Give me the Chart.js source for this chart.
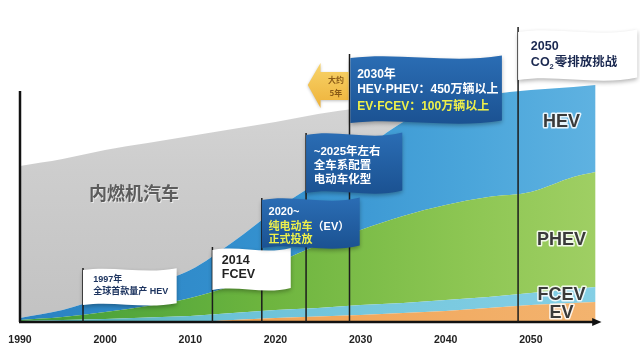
<!DOCTYPE html>
<html>
<head>
<meta charset="utf-8">
<script src="https://cdn.jsdelivr.net/npm/chart.js@4.4.0/dist/chart.umd.min.js"></script>
<style>
html,body{margin:0;padding:0;background:#fff;}
#wrap{width:640px;height:355px;}
</style>
</head>
<body>
<div id="wrap"><canvas id="c" width="640" height="355"></canvas></div>
<script>
// ---- data ----
const years      = [1990,1995,2000,2005,2010,2015,2020,2025,2030,2035,2040,2045,2050,2055,2057.6];
const evValues   = [0,0,0,0,0,2,4,5.5,7,9,11,14,17,19,20];
const fcevValues = [1,2,3,4.5,6,7,8,8.5,10,10,11,11,12,14,15];
const phevValues = [1,3,7,11.5,18,28,46,63,75,87,95,100,101,112,115];
const hevValues  = [2,7,15,21,28,43,54,63,78,94,101,102,102,90,87];
const iceValues  = [152,151,147,142,134,113,88,68,44,20,7,1,0,0,0];
const tickYears  = [1990,2000,2010,2020,2030,2040,2050];
const seriesNames = ['EV','FCEV','PHEV','HEV','内燃机汽车'];

// ---- annotations (flags on poles) ----
const YEL = '#eef04a';
const MIX = '"Liberation Sans", "Noto Sans CJK SC"';
const flagNotes = [
  {pole:1997.4, top:54, box:[1997.4,2008.4,52,17], dark:false, tx:1998.6, size:9, color:'#1e3560', font:MIX,
   lines:[[42,[['1997年']]],[30,[['全球首款量产 HEV']]]]},
  {pole:2012.6, top:75, box:[2012.6,2021.8,72,32], dark:false, tx:2013.7, size:12.5, color:'#222', font:'"Liberation Sans"',
   lines:[[61,[['2014']]],[47,[['FCEV']]]]},
  {pole:2018.4, top:124, box:[2018.4,2029.9,122,74], dark:true, tx:2019.2, size:11, color:'#fff', font:MIX,
   lines:[[110,[['2020~']]],[95,[['纯电动车',YEL],['（EV）']]],[82,[['正式投放',YEL]]]]},
  {pole:2023.6, top:189, box:[2023.6,2034.9,187,129], dark:true, tx:2024.5, size:11.5, color:'#fff', font:MIX,
   lines:[[170,[['~2025年左右']]],[156,[['全车系配置']]],[142,[['电动车化型']]]]},
  {pole:2028.7, top:268, box:[2028.8,2046.6,264,199], dark:true, tx:2029.6, size:12, color:'#fff', font:MIX,
   lines:[[247,[['2030年']]],[232,[['HEV·PHEV：450万辆以上']]],[215,[['EV·FCEV：100万辆以上',YEL]]]]},
  {pole:2048.5, top:295, box:[2048.5,2062.5,290,242], dark:false, tx:2050, size:12.5, color:'#1a2850', font:MIX,
   lines:[[275,[['2050']]],[259,[['CO'],['2','sub'],['零排放挑战']]]]}
];
const areaLabels = [
  {t:'HEV', x:2053.6, v:200}, {t:'PHEV', x:2053.6, v:82},
  {t:'FCEV', x:2053.6, v:27}, {t:'EV', x:2053.6, v:9}
];

function pts(vals){ return years.map((x,i)=>({x:x, y:vals[i]})); }

function hGrad(stops){
  return function(ctx){
    const ch = ctx.chart, a = ch.chartArea;
    if(!a) return stops[0][1];
    const g = ch.ctx.createLinearGradient(a.left,0,a.right,0);
    stops.forEach(s=>g.addColorStop(s[0],s[1]));
    return g;
  };
}
function vGrad(stops){
  return function(ctx){
    const ch = ctx.chart, a = ch.chartArea;
    if(!a) return stops[0][1];
    const g = ch.ctx.createLinearGradient(0,a.top,0,a.bottom);
    stops.forEach(s=>g.addColorStop(s[0],s[1]));
    return g;
  };
}

function flagPath(c,l,t,r,b){
  const w=r-l, h=b-t, a=Math.min(6,h*0.13);
  c.beginPath();
  c.moveTo(l,t);
  c.bezierCurveTo(l+w*0.33,t-a,l+w*0.66,t+a,r,t-a*0.4);
  c.lineTo(r,b-a*0.4);
  c.bezierCurveTo(l+w*0.66,b+a,l+w*0.33,b-a,l,b);
  c.closePath();
}

const decor = {
  id:'decor',
  afterDatasetsDraw(chart){
    const c = chart.ctx, xs = chart.scales.x, ys = chart.scales.y;
    const X = v=>xs.getPixelForValue(v), Y = v=>ys.getPixelForValue(v);
    c.save();
    // ICE label
    c.font = 'bold 18px "Noto Sans CJK SC"';
    c.textAlign='center'; c.textBaseline='middle';
    c.fillStyle='rgba(255,255,255,0.6)';
    c.fillText(seriesNames[4], X(2003.4)+1, Y(129)+1);
    c.fillStyle='#5c5c5c';
    c.fillText(seriesNames[4], X(2003.4), Y(129));

    // axes
    c.strokeStyle='#111'; c.lineWidth=2.5; c.lineCap='butt';
    c.beginPath(); c.moveTo(X(1990),Y(0)); c.lineTo(X(1990),Y(231)); c.stroke();
    c.beginPath(); c.moveTo(X(1990)-1,Y(0)); c.lineTo(X(2057.3),Y(0)); c.stroke();
    c.fillStyle='#111';
    c.beginPath(); c.moveTo(X(2058.3),Y(0)); c.lineTo(X(2057.2),Y(0)-4); c.lineTo(X(2057.2),Y(0)+4); c.closePath(); c.fill();

    // poles
    c.strokeStyle='#1c1c1c'; c.lineWidth=1.5;
    flagNotes.forEach(f=>{
      c.beginPath(); c.moveTo(X(f.pole),Y(0)); c.lineTo(X(f.pole),Y(f.top)); c.stroke();
    });

    // arrow "大约5年"
    const ax0=X(2023.8), ax1=X(2025.3), ax2=X(2028.6);
    const ay=Y(237), ht=Y(259), hb=Y(214), bt=Y(250), bb=Y(222);
    c.save();
    c.shadowColor='rgba(0,0,0,0.25)'; c.shadowBlur=3; c.shadowOffsetY=1;
    const ag = c.createLinearGradient(0,ht,0,hb);
    ag.addColorStop(0,'#f8d46a'); ag.addColorStop(1,'#eeb23a');
    c.fillStyle=ag;
    c.beginPath(); c.moveTo(ax0,ay); c.lineTo(ax1,ht); c.lineTo(ax1,bt); c.lineTo(ax2,bt);
    c.lineTo(ax2,bb); c.lineTo(ax1,bb); c.lineTo(ax1,hb); c.closePath(); c.fill();
    c.restore();
    c.fillStyle='#8a5a16'; c.font='bold 8px "Noto Sans CJK SC"'; c.textAlign='center'; c.textBaseline='middle';
    c.fillText('大约', X(2027.1), Y(242));
    c.fillText('5年', X(2027.1), Y(229));

    // flags
    flagNotes.forEach(f=>{
      const l=X(f.box[0]), r=X(f.box[1]), t=Y(f.box[2]), b=Y(f.box[3]);
      c.save();
      c.shadowColor='rgba(0,0,0,0.3)'; c.shadowBlur=4; c.shadowOffsetY=2;
      if(f.dark){
        const g=c.createLinearGradient(0,t,0,b);
        g.addColorStop(0,'#2a6cb3'); g.addColorStop(1,'#1b5292');
        c.fillStyle=g;
      } else c.fillStyle='#ffffff';
      flagPath(c,l,t,r,b); c.fill();
      c.restore();
      c.textAlign='left'; c.textBaseline='middle';
      f.lines.forEach(line=>{
        let x=X(f.tx); const y=Y(line[0]);
        line[1].forEach(p=>{
          if(p[1]==='sub'){
            c.font='bold '+(f.size*0.6)+'px '+f.font; c.fillStyle=f.color;
            c.fillText(p[0],x,y+f.size*0.3); x+=c.measureText(p[0]).width+1;
          } else {
            c.font='bold '+f.size+'px '+f.font; c.fillStyle=p[1]||f.color;
            c.fillText(p[0],x,y); x+=c.measureText(p[0]).width;
          }
        });
      });
    });

    // area labels
    c.font='bold 18px "Liberation Sans"'; c.textAlign='center'; c.textBaseline='middle';
    c.lineJoin='round';
    areaLabels.forEach(a=>{
      c.strokeStyle='rgba(255,255,255,0.85)'; c.lineWidth=3;
      c.strokeText(a.t,X(a.x),Y(a.v));
      c.fillStyle='#3a3a3a'; c.fillText(a.t,X(a.x),Y(a.v));
    });
    c.restore();
  }
};

const common = {pointRadius:0, borderWidth:0, tension:0.4, cubicInterpolationMode:'monotone'};
new Chart(document.getElementById('c'), {
  type:'line',
  data:{
    datasets:[
      Object.assign({label:seriesNames[0], data:pts(evValues), fill:'origin',
        backgroundColor:hGrad([[0,'#ea9640'],[0.5,'#f1a65a'],[1,'#f3b470']])}, common),
      Object.assign({label:seriesNames[1], data:pts(fcevValues), fill:'-1',
        backgroundColor:hGrad([[0,'#4fa9a8'],[0.35,'#6cc2d8'],[1,'#86d0e6']])}, common),
      Object.assign({label:seriesNames[2], data:pts(phevValues), fill:'-1',
        backgroundColor:hGrad([[0,'#3f9c3a'],[0.4,'#6cb43e'],[0.75,'#8dc653'],[1,'#a2d066']])}, common),
      Object.assign({label:seriesNames[3], data:pts(hevValues), fill:'-1',
        backgroundColor:hGrad([[0,'#2a82c2'],[0.45,'#3592d0'],[0.75,'#4aa5da'],[1,'#62b4e2']])}, common),
      Object.assign({label:seriesNames[4], data:pts(iceValues), fill:'-1',
        backgroundColor:vGrad([[0,'#dcdcdc'],[0.5,'#cdcdcd'],[1,'#c2c2c2']])}, common)
    ]
  },
  options:{
    responsive:false, animation:false, devicePixelRatio:1,
    layout:{padding:{left:20,right:24,top:22,bottom:11}},
    plugins:{legend:{display:false}, tooltip:{enabled:false}},
    scales:{
      x:{type:'linear', min:1990, max:2060,
        grid:{display:false}, border:{display:false},
        afterBuildTicks:s=>{ s.ticks = tickYears.map(v=>({value:v})); },
        afterFit:s=>{ s.height = 22; },
        ticks:{autoSkip:false, maxRotation:0, padding:4, color:'#222',
          font:{family:'"Liberation Sans"', size:10.5, weight:'bold'},
          callback:v=>String(v)}
      },
      y:{display:false, stacked:true, min:0, max:300}
    }
  },
  plugins:[decor]
});
</script>
</body>
</html>
